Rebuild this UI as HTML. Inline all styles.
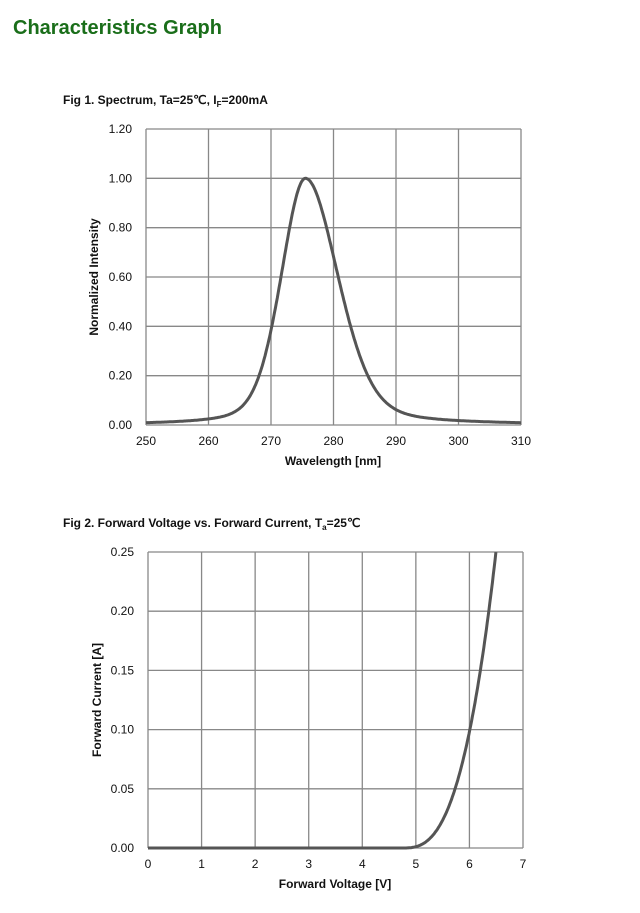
<!DOCTYPE html><html><head><style>body{margin:0;background:#fff;width:640px;height:908px;overflow:hidden;font-family:"Liberation Sans",Arial,sans-serif}</style></head><body>
<svg id="s" width="640" height="908" xmlns="http://www.w3.org/2000/svg" font-family="Liberation Sans, Arial, sans-serif">
<text x="13" y="34" font-size="20" font-weight="bold" fill="#1a6e1a">Characteristics Graph</text>
<text x="63" y="104" font-size="12" font-weight="bold" fill="#111">Fig 1. Spectrum, Ta=25℃, I<tspan font-size="8" dy="3">F</tspan><tspan dy="-3">=200mA</tspan></text>
<text x="63" y="527" font-size="12" font-weight="bold" fill="#111">Fig 2. Forward Voltage vs. Forward Current, T<tspan font-size="8" dy="3">a</tspan><tspan dy="-3">=25℃</tspan></text>
<g id="g1"></g><g id="g2"></g>
<text x="333" y="465" font-size="12" font-weight="bold" text-anchor="middle" fill="#111">Wavelength [nm]</text>
<text transform="translate(98,277) rotate(-90)" font-size="12" font-weight="bold" text-anchor="middle" fill="#111">Normalized Intensity</text>
<text x="335" y="888" font-size="12" font-weight="bold" text-anchor="middle" fill="#111">Forward Voltage [V]</text>
<text transform="translate(101,700) rotate(-90)" font-size="12" font-weight="bold" text-anchor="middle" fill="#111">Forward Current [A]</text>
</svg>
<script>
var NS="http://www.w3.org/2000/svg";
function el(g,t,a,txt){var e=document.createElementNS(NS,t);for(var k in a)e.setAttribute(k,a[k]);if(txt!=null)e.textContent=txt;g.appendChild(e);}
function chart(id,x0,x1,y0,y1,nx,ny,xl,yl,f,xa,xb){
 var g=document.getElementById(id);
 for(var i=0;i<=nx;i++){var x=x0+(x1-x0)*i/nx;el(g,"line",{x1:x,x2:x,y1:y0,y2:y1,stroke:"#888","stroke-width":1.3});el(g,"text",{x:x,y:y1+20,"font-size":12,"text-anchor":"middle",fill:"#111"},xl[i]);}
 for(var j=0;j<=ny;j++){var y=y1-(y1-y0)*j/ny;el(g,"line",{x1:x0,x2:x1,y1:y,y2:y,stroke:"#888","stroke-width":1.3});el(g,"text",{x:x0-14,y:y+4,"font-size":12,"text-anchor":"end",fill:"#111"},yl[j]);}
 var d="";for(var k=0;k<=400;k++){var t=xa+(xb-xa)*k/400;var p=f(t);if(p==null)continue;d+=(d?"L":"M")+p[0].toFixed(1)+" "+p[1].toFixed(1);}
 el(g,"path",{d:d,fill:"none",stroke:"#555","stroke-width":3});
}
chart("g1",146,521,129,425,6,6,["250","260","270","280","290","300","310"],["0.00","0.20","0.40","0.60","0.80","1.00","1.20"],function(w){
 var hw=w<275.5?4.6:6.2;var u=(w-275.5)/hw;var v=1/(1+u*u);v=0.3*v+0.7*Math.exp(-u*u*0.69);
 return [146+(w-250)*37.5/6,425-v*296/1.2];},250,310);
chart("g2",148,523,552,848,7,5,["0","1","2","3","4","5","6","7"],["0.00","0.05","0.10","0.15","0.20","0.25"],function(V){
 var I=V>4.75?0.0526*Math.pow(V-4.75,2.8):0;
 return [148+V*375/7,848-I*296/0.25];},0,6.4947);
</script>
</body></html>
